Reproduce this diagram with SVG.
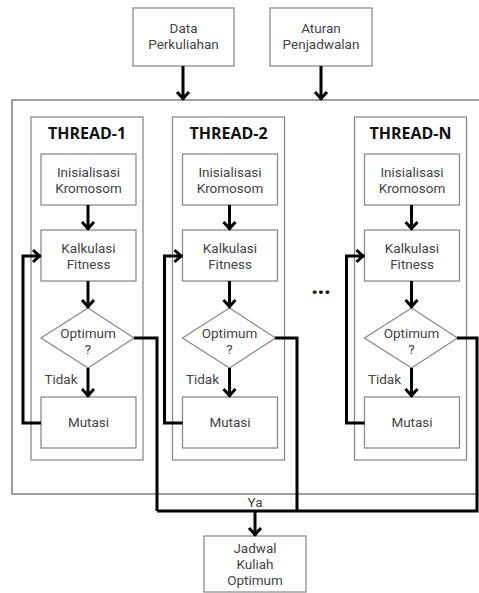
<svg xmlns="http://www.w3.org/2000/svg" width="479" height="593" viewBox="0 0 479 593">
<style>
.box{fill:#fff;stroke:#8c8c8c;stroke-width:1.3}
.outer{fill:none;stroke:#6e6e6e;stroke-width:1.3}
.t{font-family:Roboto,"Open Sans",sans-serif;font-size:13.5px;fill:#444;text-anchor:middle}
.h{font-family:"Open Sans","DejaVu Sans",sans-serif;font-size:16px;font-weight:bold;fill:#111;text-anchor:middle}
.c{fill:none;stroke:#000;stroke-width:3}
.ca{fill:none;stroke:#000;stroke-width:3;marker-end:url(#ah)}
</style>
<defs>
<marker id="ah" markerUnits="userSpaceOnUse" markerWidth="20" markerHeight="20" refX="0" refY="0" orient="auto" overflow="visible">
<path d="M -8 -6 L -1.5 0 L -8 6" fill="none" stroke="#000" stroke-width="3"/>
</marker>
</defs>
<rect class="outer" x="12" y="100" width="475" height="394"/>
<g id="data-perkuliahan">
<rect class="box" x="133" y="8" width="101" height="58"/>
<text class="t" x="183.5" y="33">Data</text>
<text class="t" x="183.5" y="49">Perkuliahan</text>
</g>
<g id="aturan-penjadwalan">
<rect class="box" x="270" y="8" width="102" height="58"/>
<text class="t" x="321" y="33">Aturan</text>
<text class="t" x="321" y="49">Penjadwalan</text>
</g>
<g id="thread-1">
<rect class="box" x="31" y="117" width="112" height="343"/>
<text class="h" x="87" y="139">THREAD-1</text>
<rect class="box" x="41" y="154" width="95" height="51"/>
<text class="t" x="88.5" y="177">Inisialisasi</text>
<text class="t" x="88.5" y="193">Kromosom</text>
<rect class="box" x="41" y="230" width="95" height="51"/>
<text class="t" x="88.5" y="253">Kalkulasi</text>
<text class="t" x="88.5" y="269">Fitness</text>
<polygon class="box" points="88,308 134,338 88,368 41,338"/>
<text class="t" x="88" y="338">Optimum</text>
<text class="t" x="88" y="354">?</text>
<text class="t" x="61" y="384">Tidak</text>
<rect class="box" x="41" y="397" width="95" height="51"/>
<text class="t" x="88.5" y="427">Mutasi</text>
</g>
<g id="thread-2" transform="translate(141.5,0)">
<rect class="box" x="31" y="117" width="112" height="343"/>
<text class="h" x="87" y="139">THREAD-2</text>
<rect class="box" x="41" y="154" width="95" height="51"/>
<text class="t" x="88.5" y="177">Inisialisasi</text>
<text class="t" x="88.5" y="193">Kromosom</text>
<rect class="box" x="41" y="230" width="95" height="51"/>
<text class="t" x="88.5" y="253">Kalkulasi</text>
<text class="t" x="88.5" y="269">Fitness</text>
<polygon class="box" points="88,308 134,338 88,368 41,338"/>
<text class="t" x="88" y="338">Optimum</text>
<text class="t" x="88" y="354">?</text>
<text class="t" x="61" y="384">Tidak</text>
<rect class="box" x="41" y="397" width="95" height="51"/>
<text class="t" x="88.5" y="427">Mutasi</text>
</g>
<g id="thread-n" transform="translate(323.5,0)">
<rect class="box" x="31" y="117" width="112" height="343"/>
<text class="h" x="87" y="139">THREAD-N</text>
<rect class="box" x="41" y="154" width="95" height="51"/>
<text class="t" x="88.5" y="177">Inisialisasi</text>
<text class="t" x="88.5" y="193">Kromosom</text>
<rect class="box" x="41" y="230" width="95" height="51"/>
<text class="t" x="88.5" y="253">Kalkulasi</text>
<text class="t" x="88.5" y="269">Fitness</text>
<polygon class="box" points="88,308 134,338 88,368 41,338"/>
<text class="t" x="88" y="338">Optimum</text>
<text class="t" x="88" y="354">?</text>
<text class="t" x="61" y="384">Tidak</text>
<rect class="box" x="41" y="397" width="95" height="51"/>
<text class="t" x="88.5" y="427">Mutasi</text>
</g>
<g id="ellipsis">
<text x="321" y="294" style="font-family:'Open Sans','DejaVu Sans',sans-serif;font-size:22px;font-weight:bold;fill:#111;text-anchor:middle">...</text>
</g>
<g id="jadwal-kuliah-optimum">
<rect class="box" x="204" y="536" width="102" height="56"/>
<text class="t" x="255" y="553">Jadwal</text>
<text class="t" x="255" y="569">Kuliah</text>
<text class="t" x="255" y="585">Optimum</text>
</g>
<g id="connectors">
<line class="ca" x1="183" y1="66" x2="183" y2="100"/>
<line class="ca" x1="321" y1="66" x2="321" y2="100"/>
<g id="thread-1-conn">
<line class="ca" x1="88" y1="205" x2="88" y2="230"/>
<line class="ca" x1="88" y1="281" x2="88" y2="308"/>
<line class="ca" x1="88" y1="368" x2="88" y2="397"/>
<polyline class="ca" points="41,423 23,423 23,256 41,256"/>
</g>
<g id="thread-2-conn" transform="translate(141.5,0)">
<line class="ca" x1="88" y1="205" x2="88" y2="230"/>
<line class="ca" x1="88" y1="281" x2="88" y2="308"/>
<line class="ca" x1="88" y1="368" x2="88" y2="397"/>
<polyline class="ca" points="41,423 23,423 23,256 41,256"/>
</g>
<g id="thread-n-conn" transform="translate(323.5,0)">
<line class="ca" x1="88" y1="205" x2="88" y2="230"/>
<line class="ca" x1="88" y1="281" x2="88" y2="308"/>
<line class="ca" x1="88" y1="368" x2="88" y2="397"/>
<polyline class="ca" points="41,423 23,423 23,256 41,256"/>
</g>
<polyline class="c" points="134,338 157,338 157,511"/>
<polyline class="c" points="275,338 297,338 297,511"/>
<polyline class="c" points="457,338 477,338 477,511 157,511"/>
<line class="ca" x1="255" y1="511" x2="255" y2="536"/>
<text class="t" x="255" y="507">Ya</text>
</g>
</svg>
